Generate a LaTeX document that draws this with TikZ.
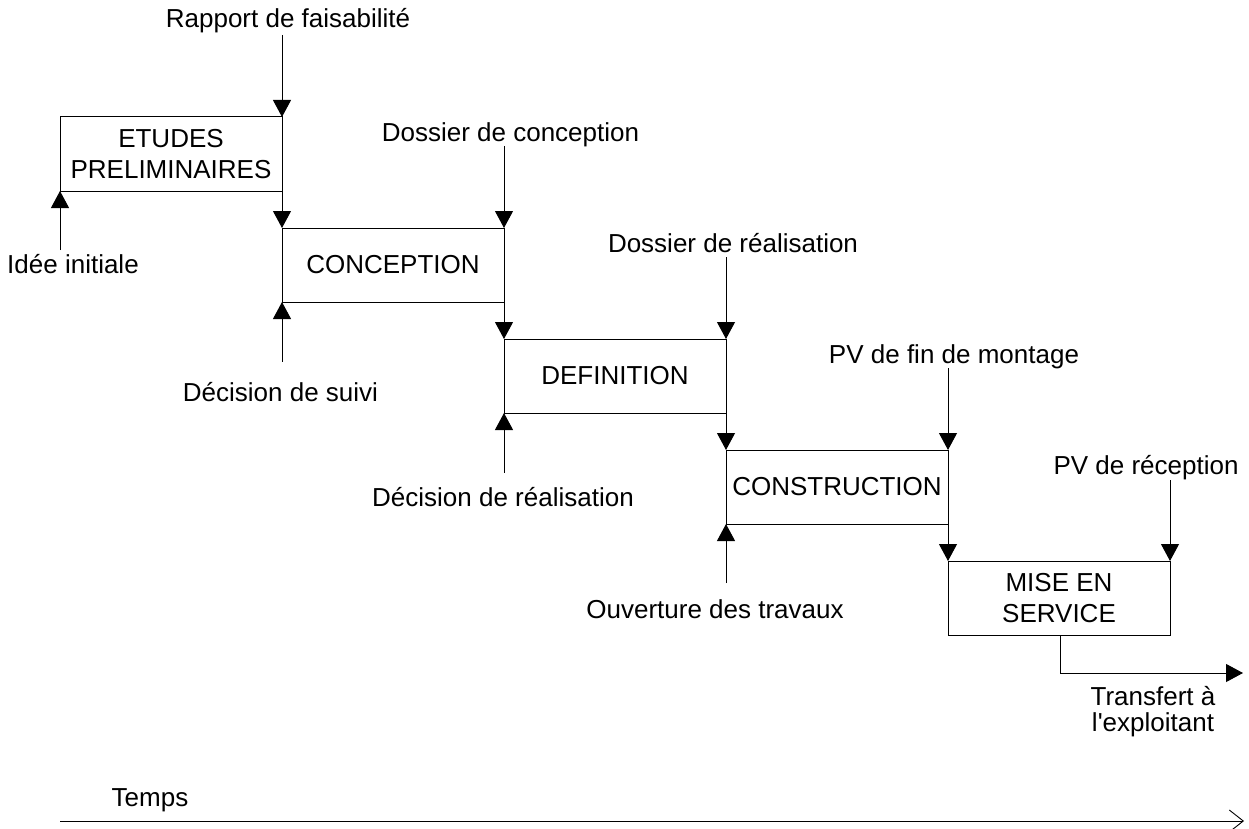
\documentclass[tikz,border=0pt]{standalone}
\usepackage{fontspec}
\newfontfamily\plainfont{Liberation Sans}
\usetikzlibrary{arrows.meta}
\begin{document}
\begin{tikzpicture}[x=1pt,y=-1pt,
  every node/.style={font=\plainfont\fontsize{26}{31.5}\selectfont, inner sep=0pt, outer sep=0pt},
  phase/.style={draw, line width=1pt, minimum width=222pt, minimum height=74pt, align=center},
  lbl/.style={anchor=base},
  arr/.style={line width=1pt, -{Triangle[length=17pt,width=18pt]}},
  timearr/.style={line width=0.9pt, -{Straight Barb[length=14pt,width=22pt,line width=0.9pt]}}
]
\useasboundingbox (0,0) rectangle (1249,829);

% phases
\node[phase] (b1) at (171,154) {ETUDES\\PRELIMINAIRES};
\node[phase] (b2) at (393,265) {CONCEPTION};
\node[phase] (b3) at (615,376) {DEFINITION};
\node[phase] (b4) at (837,487) {CONSTRUCTION};
\node[phase] (b5) at (1059,598) {MISE EN\\SERVICE};

% top labels
\node[lbl] (l1) at (288,28) {Rapport de faisabilité};
\node[lbl] (l2) at (510.5,141.5) {Dossier de conception};
\node[lbl] (l3) at (733,252.5) {Dossier de réalisation};
\node[lbl] (l4) at (954,363) {PV de fin de montage};
\node[lbl] (l5) at (1146,474) {PV de réception};

% top arrow starts
\coordinate (t1) at (282,35);
\coordinate (t2) at (504,146);
\coordinate (t3) at (726,257);
\coordinate (t4) at (948,368);
\coordinate (t5) at (1170,480);

\draw[arr] (t1) -- (b1.north east);
\draw[arr] (t2) -- (b2.north east);
\draw[arr] (t3) -- (b3.north east);
\draw[arr] (t4) -- (b4.north east);
\draw[arr] (t5) -- (b5.north east);

% links between phases
\draw[arr] (b1.south east) -- (b2.north west);
\draw[arr] (b2.south east) -- (b3.north west);
\draw[arr] (b3.south east) -- (b4.north west);
\draw[arr] (b4.south east) -- (b5.north west);

% bottom labels
\node[lbl] (d1) at (73,273) {Idée initiale};
\node[lbl] (d2) at (280.5,401) {Décision de suivi};
\node[lbl] (d3) at (503,506.7) {Décision de réalisation};
\node[lbl] (d4) at (715,618) {Ouverture des travaux};

% bottom arrow starts
\coordinate (u1) at (60,250);
\coordinate (u2) at (282,361.5);
\coordinate (u3) at (504,472.5);
\coordinate (u4) at (726,583);

\draw[arr] (u1) -- (b1.south west);
\draw[arr] (u2) -- (b2.south west);
\draw[arr] (u3) -- (b3.south west);
\draw[arr] (u4) -- (b4.south west);

% transfer
\coordinate (tr0) at (1060,636);
\coordinate (tr1) at (1243,673);
\draw[arr] (tr0) |- (tr1);
\node[lbl, align=center, font=\plainfont\fontsize{26}{25.5}\selectfont] (tx) at (1153,731) {Transfert à\\l'exploitant};

% time axis
\coordinate (s0) at (60,821);
\coordinate (s1) at (1244,821);
\draw[timearr] (s0) -- (s1);
\node[lbl] (tps) at (150,806) {Temps};
\end{tikzpicture}
\end{document}
